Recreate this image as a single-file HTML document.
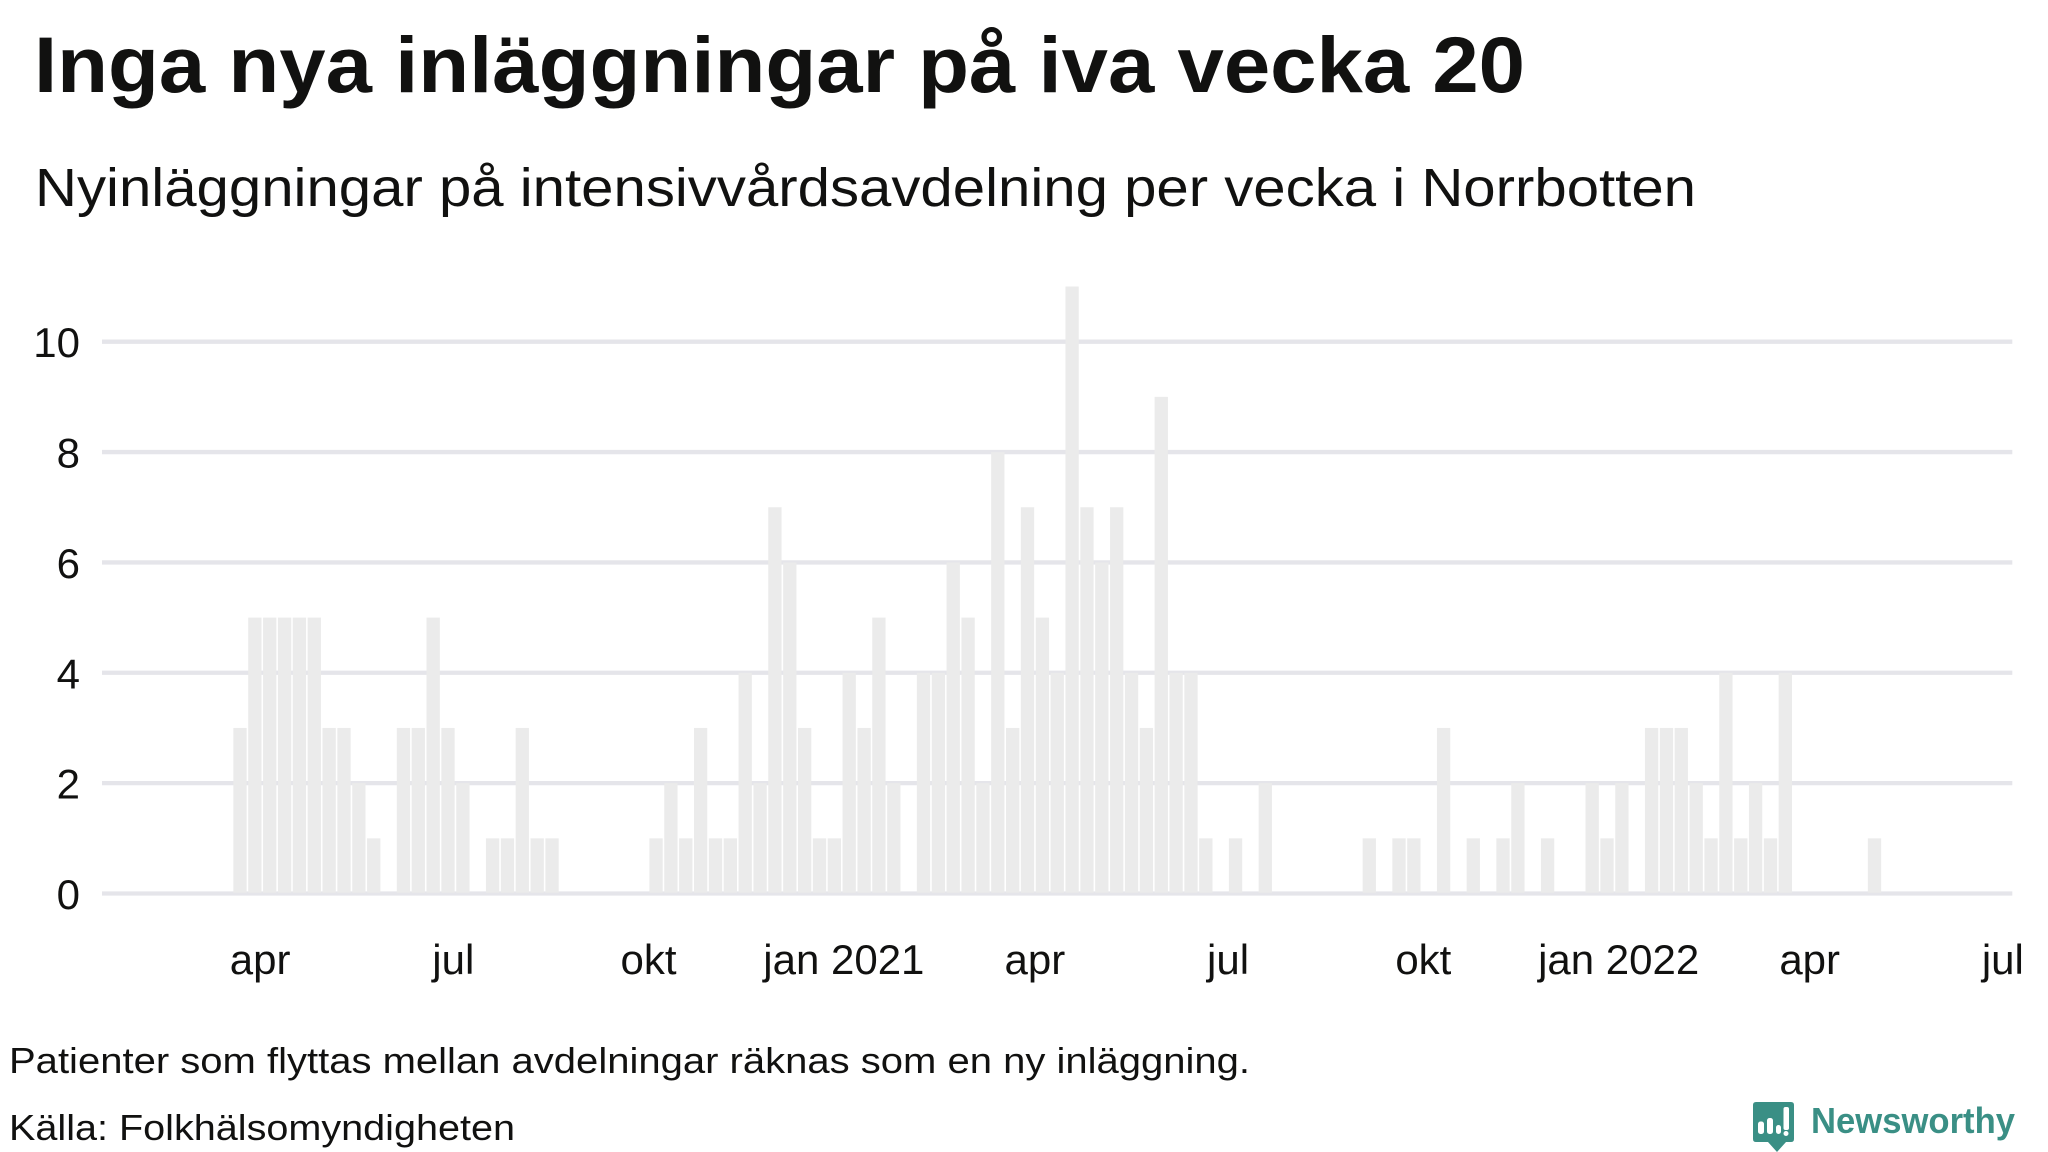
<!DOCTYPE html>
<html lang="sv">
<head>
<meta charset="utf-8">
<title>Inga nya inläggningar på iva vecka 20</title>
<style>
  html, body { margin: 0; padding: 0; background: #fff; width: 2048px; height: 1152px; overflow: hidden; }
  svg { display: block; }
  text { font-family: "Liberation Sans", "DejaVu Sans", sans-serif; fill: #111110; }
</style>
</head>
<body>
<svg id="chart" xmlns="http://www.w3.org/2000/svg" width="2048" height="1152" viewBox="0 0 2048 1152">
  <text x="34" y="92" font-size="79" font-weight="700" textLength="1491" lengthAdjust="spacingAndGlyphs">Inga nya inläggningar på iva vecka 20</text>
  <text x="35" y="206" font-size="54" textLength="1661" lengthAdjust="spacingAndGlyphs">Nyinläggningar på intensivvårdsavdelning per vecka i Norrbotten</text>
  <g id="grid"></g>
  <g id="bars"></g>
  <g id="ylabels"></g>
  <g id="xlabels"></g>
  <text x="9" y="1073" font-size="36" textLength="1241" lengthAdjust="spacingAndGlyphs">Patienter som flyttas mellan avdelningar räknas som en ny inläggning.</text>
  <text x="9" y="1140" font-size="36" textLength="506" lengthAdjust="spacingAndGlyphs">Källa: Folkhälsomyndigheten</text>
  <g>
    <path d="M1756 1102H1791Q1794 1102 1794 1105V1139Q1794 1142 1791 1142H1786L1777 1152L1768 1142H1756Q1753 1142 1753 1139V1105Q1753 1102 1756 1102Z" fill="#3a8f85"/>
    <rect x="1758" y="1121.5" width="6" height="12.5" rx="2.5" fill="#fff"/>
    <rect x="1767" y="1118" width="6" height="16" rx="2.5" fill="#fff"/>
    <rect x="1776" y="1125" width="5" height="9" rx="2.5" fill="#fff"/>
    <rect x="1783.5" y="1107" width="5.5" height="23" rx="2" fill="#fff"/>
    <circle cx="1786" cy="1133.5" r="2.5" fill="#fff"/>
    <text x="1811" y="1133" font-size="36" font-weight="700" textLength="204" lengthAdjust="spacingAndGlyphs" style="fill:#3a8f85">Newsworthy</text>
  </g>
</svg>
<script>
const weeks = [
  "2020-13","2020-14","2020-15","2020-16","2020-17","2020-18","2020-19","2020-20","2020-21","2020-22",
  "2020-23","2020-24","2020-25","2020-26","2020-27","2020-28","2020-29","2020-30","2020-31","2020-32",
  "2020-33","2020-34","2020-35","2020-36","2020-37","2020-38","2020-39","2020-40","2020-41","2020-42",
  "2020-43","2020-44","2020-45","2020-46","2020-47","2020-48","2020-49","2020-50","2020-51","2020-52",
  "2020-53","2021-01","2021-02","2021-03","2021-04","2021-05","2021-06","2021-07","2021-08","2021-09",
  "2021-10","2021-11","2021-12","2021-13","2021-14","2021-15","2021-16","2021-17","2021-18","2021-19",
  "2021-20","2021-21","2021-22","2021-23","2021-24","2021-25","2021-26","2021-27","2021-28","2021-29",
  "2021-30","2021-31","2021-32","2021-33","2021-34","2021-35","2021-36","2021-37","2021-38","2021-39",
  "2021-40","2021-41","2021-42","2021-43","2021-44","2021-45","2021-46","2021-47","2021-48","2021-49",
  "2021-50","2021-51","2021-52","2022-01","2022-02","2022-03","2022-04","2022-05","2022-06","2022-07",
  "2022-08","2022-09","2022-10","2022-11","2022-12","2022-13","2022-14","2022-15","2022-16","2022-17",
  "2022-18","2022-19","2022-20"
];
const admissions = [
  3,5,5,5,5,5,3,3,2,1,
  0,3,3,5,3,2,0,1,1,3,
  1,1,0,0,0,0,0,0,1,2,
  1,3,1,1,4,2,7,6,3,1,
  1,4,3,5,2,0,4,4,6,5,
  2,8,3,7,5,4,11,7,6,7,
  4,3,9,4,4,1,0,1,0,2,
  0,0,0,0,0,0,1,0,1,1,
  0,3,0,1,0,1,2,0,1,0,
  0,2,1,2,0,3,3,3,2,1,
  4,1,2,1,4,0,0,0,0,0,
  1,0,0
];
const yTicks = [0,2,4,6,8,10];
const xTickDates = ["2020-04-01","2020-07-01","2020-10-01","2021-01-01","2021-04-01","2021-07-01","2021-10-01","2022-01-01","2022-04-01","2022-07-01"];
const xTickLabels = ["apr","jul","okt","jan 2021","apr","jul","okt","jan 2022","apr","jul"];

const NS = "http://www.w3.org/2000/svg";
const firstWeekStart = Date.UTC(2020, 2, 23);
const barPitch = 14.859;
const barWidth = 13.3;
function xIndex(i) { return 240 + barPitch * i; }
function xDate(s) { return xIndex((Date.parse(s + "T00:00:00Z") - firstWeekStart) / (7 * 864e5)) + 1; }
function yValue(v) { return 893.5 - 55.18 * v; }

const gridGroup = document.getElementById("grid");
const yLabelGroup = document.getElementById("ylabels");
yTicks.forEach(function (t) {
  const line = document.createElementNS(NS, "line");
  line.setAttribute("x1", 102);
  line.setAttribute("x2", 2012.3);
  line.setAttribute("y1", yValue(t));
  line.setAttribute("y2", yValue(t));
  line.setAttribute("stroke", "#e5e5ea");
  line.setAttribute("stroke-width", 4.3);
  
  
  gridGroup.appendChild(line);
  const label = document.createElementNS(NS, "text");
  label.setAttribute("x", 80);
  label.setAttribute("y", yValue(t) + 15.5);
  label.setAttribute("text-anchor", "end");
  label.setAttribute("font-size", 42);
  
  
  label.textContent = t;
  yLabelGroup.appendChild(label);
});

const barGroup = document.getElementById("bars");
admissions.forEach(function (v, i) {
  if (v <= 0) return;
  const rect = document.createElementNS(NS, "rect");
  const top = yValue(v);
  rect.setAttribute("x", xIndex(i) - barWidth / 2);
  rect.setAttribute("y", top);
  rect.setAttribute("width", barWidth);
  rect.setAttribute("height", yValue(0) - 0.8 - top);
  rect.setAttribute("fill", "#ebebeb");
  
  
  const tip = document.createElementNS(NS, "title");
  tip.textContent = weeks[i] + ": " + v;
  rect.appendChild(tip);
  barGroup.appendChild(rect);
});

const xLabelGroup = document.getElementById("xlabels");
xTickLabels.forEach(function (l, i) {
  const label = document.createElementNS(NS, "text");
  label.setAttribute("x", xDate(xTickDates[i]));
  label.setAttribute("y", 974);
  label.setAttribute("text-anchor", "middle");
  label.setAttribute("font-size", 42);
  
  
  label.textContent = l;
  xLabelGroup.appendChild(label);
});
</script>
</body>
</html>
